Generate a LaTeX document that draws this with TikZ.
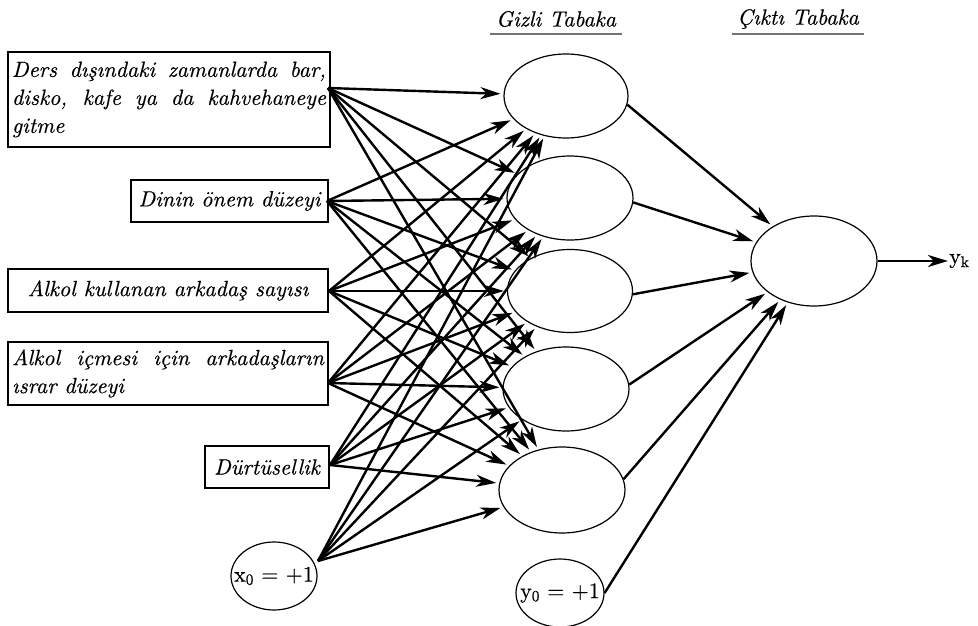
\documentclass[tikz,border=0pt]{standalone}
\usepackage{fontspec}
\setmainfont{lmroman10-regular.otf}[ItalicFont=lmroman10-italic.otf, FakeBold=0.4]
\usetikzlibrary{arrows.meta,shapes.geometric}
\hyphenpenalty=10000
\begin{document}
\begin{tikzpicture}[x=1pt,y=-1pt,
  txt/.style={font=\fontsize{22}{28}\selectfont},
  itx/.style={font=\fontsize{22}{28}\selectfont\itshape},
  inbox/.style={draw, line width=1.3pt, inner xsep=4pt, inner ysep=0pt,
    font=\fontsize{22}{28}\selectfont\itshape},
  neuron/.style={draw, ellipse, line width=1.2pt, inner sep=0pt},
  conn/.style={line width=2.4pt, shorten >=3pt, -{Stealth[length=20pt,width=12pt,inset=6pt]}},
  ul/.style={draw=black!55, line width=1.3pt}
]
\useasboundingbox (0,0) rectangle (978,626);

% layer titles
\node[itx] (gt) at (556,19) {Gizli Tabaka};
\draw[ul] (490,34) -- (622,34);
\node[itx] (ct) at (798,19) {Çıktı Tabaka};
\draw[ul] (732,34) -- (864,34);

% input boxes
\node[inbox, text width=314pt, align=justify, minimum height=95pt] (b1) at (169,99.5)
  {Ders dışındaki zamanlarda bar,\linebreak disko, kafe ya da kahvehaneye\linebreak gitme};
\node[inbox, minimum width=197pt, minimum height=42pt] (b2) at (229.5,201) {Dinin önem düzeyi};
\node[inbox, minimum width=320pt, minimum height=43pt] (b3) at (168,290.5) {Alkol kullanan arkadaş sayısı};
\node[inbox, text width=312pt, align=justify, minimum height=63pt] (b4) at (168,373.5)
  {Alkol içmesi için arkadaşların\linebreak ısrar düzeyi};
\node[inbox, minimum width=124pt, minimum height=42pt] (b5) at (267,467) {Dürtüsellik};
\node[neuron, minimum width=86pt, minimum height=68pt,
  label={[txt, inner sep=0pt]center:x\textsubscript{0} = +1}] (x0) at (274,576) {};

% hidden neurons
\node[neuron, minimum width=124pt, minimum height=84pt] (h1) at (566,96) {};
\node[neuron, minimum width=126pt, minimum height=84pt] (h2) at (570,198) {};
\node[neuron, minimum width=125pt, minimum height=83pt] (h3) at (570,291) {};
\node[neuron, minimum width=126pt, minimum height=84pt] (h4) at (566,389) {};
\node[neuron, minimum width=126pt, minimum height=86pt] (h5) at (562,490) {};
\node[neuron, minimum width=88pt, minimum height=68pt,
  label={[txt, inner sep=0pt]center:y\textsubscript{0} = +1}] (y0) at (560,593) {};

% output neuron
\node[neuron, minimum width=126pt, minimum height=90pt] (o) at (814,261) {};
\node[txt, anchor=west, inner sep=1pt] (yk) at (948,261) {y\textsubscript{k}};

% source points on the inputs
\coordinate (s1) at (328,88);
\coordinate (s2) at (327,201);
\coordinate (s3) at (329,291);
\coordinate (s4) at (328,383);
\coordinate (s5) at (330,465);
\coordinate (s6) at (318,561);

\foreach \s in {s1,s2,s3,s4,s5,s6}{
  \foreach \h in {h1,h2,h3,h4,h5}{
    \draw[conn] (\s) -- (\h);
  }
}

\draw[conn] (h1.-8) -- (o);
\draw[conn] (h2.-4) -- (o);
\draw[conn] (h3.-3) -- (o);
\draw[conn] (h4.4) -- (o);
\draw[conn] (h5.10) -- (o);
\draw[conn] (y0.east) -- (o);
\draw[conn, shorten >=0pt] (o.east) -- (yk.west);
\end{tikzpicture}
\end{document}
